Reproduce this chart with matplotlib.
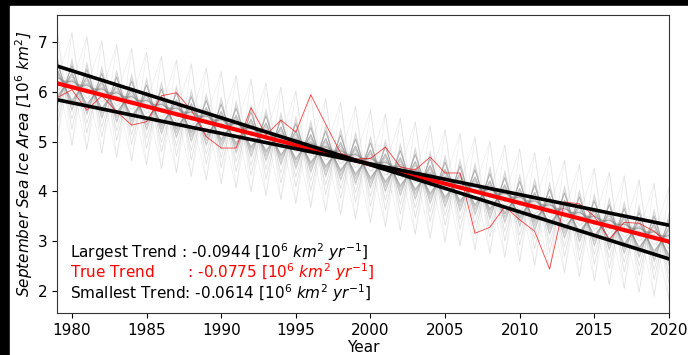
import numpy as np
import matplotlib
matplotlib.use("Agg")
import matplotlib.pyplot as plt
from matplotlib.patches import Rectangle
from matplotlib.ticker import MultipleLocator

years = np.arange(1979, 2021)
area = [5.88, 6.04, 5.63, 5.92, 5.60, 5.33, 5.40, 5.92, 5.98, 5.63,
        5.10, 4.87, 4.87, 5.68, 5.13, 5.43, 5.19, 5.94, 5.35, 4.77,
        4.65, 4.66, 4.89, 4.49, 4.43, 4.69, 4.37, 4.37, 3.16, 3.28,
        3.70, 3.43, 3.20, 2.44, 3.79, 3.75, 3.50, 3.04, 3.38, 3.36,
        3.20, 2.95]

# trends quoted on the chart [10^6 km^2 / yr]
slope_largest = -0.0944
slope_true = -0.0775
slope_smallest = -0.0614

area = np.array(area)
tm = years.mean()
am = area.mean()


def trend(slope):
    return am + slope * (years - tm)


# residuals about the true trend, reshuffled to build the grey surrogates
resid = area - trend(slope_true)
r_desc = np.sort(resid)[::-1]
r_asc = np.sort(resid)
n = len(resid)
zig = np.empty(n)
zig[0::2] = r_desc[: (n + 1) // 2]
zig[1::2] = r_asc[: n // 2]
zag = np.empty(n)
zag[0::2] = r_asc[: (n + 1) // 2]
zag[1::2] = r_desc[: n // 2]

fig = plt.figure(figsize=(6.88, 3.55), dpi=100, facecolor="black")
fig.patches.append(Rectangle((10 / 688, 0), 1, (355 - 6) / 355,
                             transform=fig.transFigure, color="white", zorder=-1))
ax = fig.add_axes([57 / 688, 42 / 355, 612 / 688, 298 / 355])

for base in (zig, zag):
    for k in range(n):
        ax.plot(years, trend(slope_true) + np.roll(base, k),
                color="#8c8c8c", lw=0.5, alpha=0.16)

ax.plot(years, area, color="red", lw=0.6, alpha=0.75)
ax.plot(years, trend(slope_true), color="red", lw=3)
ax.plot(years, trend(slope_largest), color="black", lw=2.6)
ax.plot(years, trend(slope_smallest), color="black", lw=2.6)

unit = r"[$10^6$ $km^2$ $yr^{-1}$]"
ax.text(0.021, 0.205, f"Largest Trend : {slope_largest:.4f} " + unit,
        transform=ax.transAxes, fontsize=11, va="center", color="black")
ax.text(0.021, 0.138, f"True Trend       : {slope_true:.4f} " + unit,
        transform=ax.transAxes, fontsize=11, va="center", color="red")
ax.text(0.021, 0.067, f"Smallest Trend: {slope_smallest:.4f} " + unit,
        transform=ax.transAxes, fontsize=11, va="center", color="black")

ax.set_xlim(1979, 2020)
ax.set_ylim(1.56, 7.54)
ax.xaxis.set_major_locator(MultipleLocator(5))
ax.yaxis.set_major_locator(MultipleLocator(1))
ax.tick_params(labelsize=11)
for sp in ax.spines.values():
    sp.set_color("#333333")
ax.set_xlabel("Year", fontsize=11, labelpad=2)
ax.set_ylabel(r"September Sea Ice Area [$10^6$ $km^2$]", fontsize=11,
              style="italic")
ax.yaxis.set_label_coords(-0.036, 0.5)

fig.savefig("out.png", dpi=100, facecolor=fig.get_facecolor())
